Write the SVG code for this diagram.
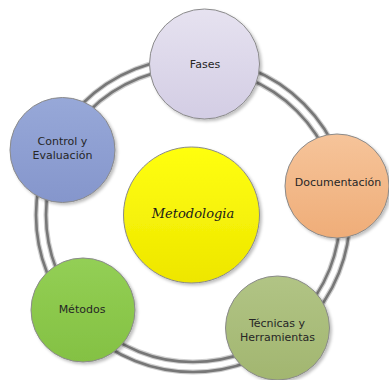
<svg xmlns="http://www.w3.org/2000/svg" width="389" height="380" viewBox="0 0 389 380">
  <style>
    .ring { fill: none; stroke: #777777; stroke-width: 2.6; }
    .ring-halo { fill: none; stroke: #cfcfcf; stroke-width: 5; }
    .node { stroke: #8a8a8a; stroke-width: 1; filter: url(#shadow); }
    .label { font-family: "DejaVu Sans", "Open Sans", sans-serif; font-size: 11px; fill: #262626; text-anchor: middle; }
    .hub { font-family: "DejaVu Serif", "Liberation Serif", serif; font-size: 13px; fill: #1a1a1a; text-anchor: middle; font-style: italic; }
  </style>
  <defs>
    <filter id="shadow" x="-20%" y="-20%" width="140%" height="140%">
      <feGaussianBlur in="SourceAlpha" stdDeviation="1.5"/>
      <feOffset dx="1.5" dy="2" result="blur"/>
      <feFlood flood-color="#000" flood-opacity="0.25"/>
      <feComposite in2="blur" operator="in"/>
      <feMerge>
        <feMergeNode/>
        <feMergeNode in="SourceGraphic"/>
      </feMerge>
    </filter>
    <linearGradient id="gFases" x1="0" y1="0" x2="0" y2="1">
      <stop offset="0" stop-color="#e6e2f0"/>
      <stop offset="1" stop-color="#d3cde4"/>
    </linearGradient>
    <linearGradient id="gDoc" x1="0" y1="0" x2="0" y2="1">
      <stop offset="0" stop-color="#f6c49a"/>
      <stop offset="1" stop-color="#efad78"/>
    </linearGradient>
    <linearGradient id="gCtrl" x1="0" y1="0" x2="0" y2="1">
      <stop offset="0" stop-color="#97a8d8"/>
      <stop offset="1" stop-color="#8596cc"/>
    </linearGradient>
    <linearGradient id="gMet" x1="0" y1="0" x2="0" y2="1">
      <stop offset="0" stop-color="#93cf55"/>
      <stop offset="1" stop-color="#84c143"/>
    </linearGradient>
    <linearGradient id="gTec" x1="0" y1="0" x2="0" y2="1">
      <stop offset="0" stop-color="#b1c485"/>
      <stop offset="1" stop-color="#a2b670"/>
    </linearGradient>
    <linearGradient id="gHub" x1="0" y1="0" x2="0" y2="1">
      <stop offset="0" stop-color="#ffff10"/>
      <stop offset="1" stop-color="#eee600"/>
    </linearGradient>
  </defs>

  <rect width="389" height="380" fill="#ffffff"/>

  <!-- double ring joining the outer nodes -->
  <g id="connectors">
    <circle class="ring-halo" cx="193" cy="215" r="157"/>
    <circle class="ring-halo" cx="193" cy="215" r="147"/>
    <circle class="ring" cx="193" cy="215" r="157"/>
    <circle class="ring" cx="193" cy="215" r="147"/>
  </g>

  <g id="metodologia">
    <circle class="node" cx="191.5" cy="215" r="68" fill="url(#gHub)"/>
    <text class="hub" x="193" y="218">Metodologia</text>
  </g>

  <g id="fases">
    <circle class="node" cx="204.5" cy="64" r="55" fill="url(#gFases)"/>
    <text class="label" x="205" y="68">Fases</text>
  </g>

  <g id="documentacion">
    <circle class="node" cx="337" cy="186" r="52" fill="url(#gDoc)"/>
    <text class="label" x="338" y="186">Documentación</text>
  </g>

  <g id="tecnicas">
    <circle class="node" cx="277.5" cy="328" r="52" fill="url(#gTec)"/>
    <text class="label" x="277" y="327">Técnicas y</text>
    <text class="label" x="277.5" y="341">Herramientas</text>
  </g>

  <g id="metodos">
    <circle class="node" cx="83" cy="310" r="52" fill="url(#gMet)"/>
    <text class="label" x="82" y="313">Métodos</text>
  </g>

  <g id="control">
    <circle class="node" cx="62.5" cy="150" r="52.5" fill="url(#gCtrl)"/>
    <text class="label" x="62.5" y="145">Control y</text>
    <text class="label" x="62.5" y="159">Evaluación</text>
  </g>
</svg>
